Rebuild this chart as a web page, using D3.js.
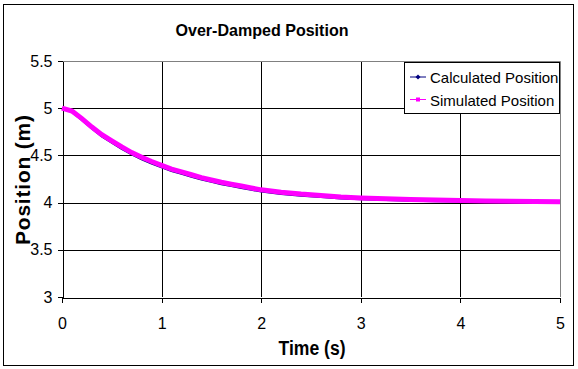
<!DOCTYPE html>
<html>
<head>
<meta charset="utf-8">
<script src="https://cdn.jsdelivr.net/npm/d3@7"></script>
<style>
  body { margin: 0; background: #fff; }
  svg { display: block; font-family: "Liberation Sans", Arial, sans-serif; }
  .axis path, .axis line { stroke: #000; shape-rendering: crispEdges; }
  .axis text { font-size: 16px; fill: #000; }
  .grid line { stroke: #000; shape-rendering: crispEdges; }
  .grid path { display: none; }
</style>
</head>
<body>
<svg id="chart" width="578" height="369"></svg>
<script>
// values
const time = [0, 0.1, 0.2, 0.3, 0.4, 0.5, 0.6, 0.7, 0.8, 0.9, 1.0, 1.1, 1.2, 1.3, 1.4, 1.5, 1.6, 1.7, 1.8, 1.9,
              2.0, 2.2, 2.4, 2.6, 2.8, 3.0, 3.25, 3.5, 3.75, 4.0, 4.25, 4.5, 4.75, 5.0];
const simulated = [5.00, 4.97, 4.89, 4.80, 4.72, 4.655, 4.59, 4.53, 4.48, 4.435, 4.395, 4.355, 4.325, 4.295, 4.265,
                   4.24, 4.215, 4.195, 4.175, 4.155, 4.135, 4.11, 4.09, 4.075, 4.06, 4.05, 4.04, 4.033, 4.027,
                   4.022, 4.018, 4.015, 4.012, 4.01];
const calculated = [5.00, 4.963, 4.878, 4.786, 4.704, 4.638, 4.572, 4.512, 4.461, 4.416, 4.376, 4.337, 4.307, 4.277,
                    4.248, 4.223, 4.198, 4.178, 4.158, 4.139, 4.119, 4.095, 4.076, 4.061, 4.047, 4.038, 4.029, 4.023,
                    4.018, 4.013, 4.010, 4.008, 4.006, 4.004];
const xTicks = [0, 1, 2, 3, 4, 5];
const yTicks = [3, 3.5, 4, 4.5, 5, 5.5];
const seriesNames = ["Calculated Position", "Simulated Position"];
const seriesColors = ["#000080", "#ff00ff"];

const svg = d3.select("#chart");
const plot = {left: 62, right: 560, top: 61, bottom: 297};

const x = d3.scaleLinear().domain([0, 5]).range([plot.left, plot.right]);
const y = d3.scaleLinear().domain([3, 5.5]).range([plot.bottom, plot.top]);

// outer chart border
svg.append("rect")
    .attr("x", 3.5).attr("y", 4.5)
    .attr("width", 570).attr("height", 361)
    .attr("fill", "#fff").attr("stroke", "#000");

// gridlines
svg.append("g").attr("class", "grid")
    .attr("transform", `translate(${plot.left},0)`)
    .call(d3.axisLeft(y).tickValues(yTicks.slice(1, -1)).tickSize(-(plot.right - plot.left)).tickFormat(""));
svg.append("g").attr("class", "grid")
    .attr("transform", `translate(0,${plot.bottom})`)
    .call(d3.axisBottom(x).tickValues(xTicks.slice(1, -1)).tickSize(-(plot.bottom - plot.top)).tickFormat(""));

// plot area border top and right (gray)
svg.append("path")
    .attr("d", `M${plot.left},${plot.top + 0.5}H${plot.right + 0.5}V${plot.bottom}`)
    .attr("fill", "none").attr("stroke", "#808080");

// axes
svg.append("g").attr("class", "axis")
    .attr("transform", `translate(${plot.left + 0.5},0)`)
    .call(d3.axisLeft(y).tickValues(yTicks).tickSize(5).tickSizeOuter(0).tickPadding(5).tickFormat(d3.format("")));
svg.append("g").attr("class", "axis")
    .attr("transform", `translate(0,${plot.bottom + 0.5})`)
    .call(d3.axisBottom(x).tickValues(xTicks).tickSize(5).tickSizeOuter(0).tickPadding(15).tickFormat(d3.format("")));

// series
const line = vals => d3.line().x((d, i) => x(time[i])).y(d => y(d))(vals);
svg.append("path").attr("d", line(calculated))
    .attr("fill", "none").attr("stroke", seriesColors[0]).attr("stroke-width", 2.5);
svg.append("path").attr("d", line(simulated))
    .attr("fill", "none").attr("stroke", seriesColors[1]).attr("stroke-width", 5);

// titles
svg.append("text").attr("x", 262).attr("y", 36).attr("text-anchor", "middle")
    .style("font-size", "17px").style("font-weight", "bold")
    .attr("textLength", 173).attr("lengthAdjust", "spacingAndGlyphs").text("Over-Damped Position");
svg.append("text").attr("x", 312).attr("y", 355).attr("text-anchor", "middle")
    .style("font-size", "20px").style("font-weight", "bold")
    .attr("textLength", 67).attr("lengthAdjust", "spacingAndGlyphs").text("Time (s)");
svg.append("text").attr("transform", "translate(30,180) rotate(-90)").attr("text-anchor", "middle")
    .style("font-size", "21px").style("font-weight", "bold")
    .attr("textLength", 130).attr("lengthAdjust", "spacing").text("Position (m)");

// legend
const legend = svg.append("g");
legend.append("rect")
    .attr("x", 404.5).attr("y", 62.5).attr("width", 155).attr("height", 51)
    .attr("fill", "#fff").attr("stroke", "#000");
const rows = legend.selectAll(".row").data(seriesNames).join("g")
    .attr("transform", (d, i) => `translate(0,${77 + i * 22.5})`);
rows.append("line").attr("x1", 410).attr("x2", 426)
    .attr("stroke", (d, i) => seriesColors[i]).attr("stroke-width", 1);
rows.append("path")
    .attr("d", (d, i) => i === 0 ? "M418,-2.5L420.5,0L418,2.5L415.5,0Z" : "M416,-2H420V2H416Z")
    .attr("fill", (d, i) => seriesColors[i]);
rows.append("text").attr("x", 430).attr("y", 6)
    .style("font-size", "15px").text(d => d);
</script>
</body>
</html>
